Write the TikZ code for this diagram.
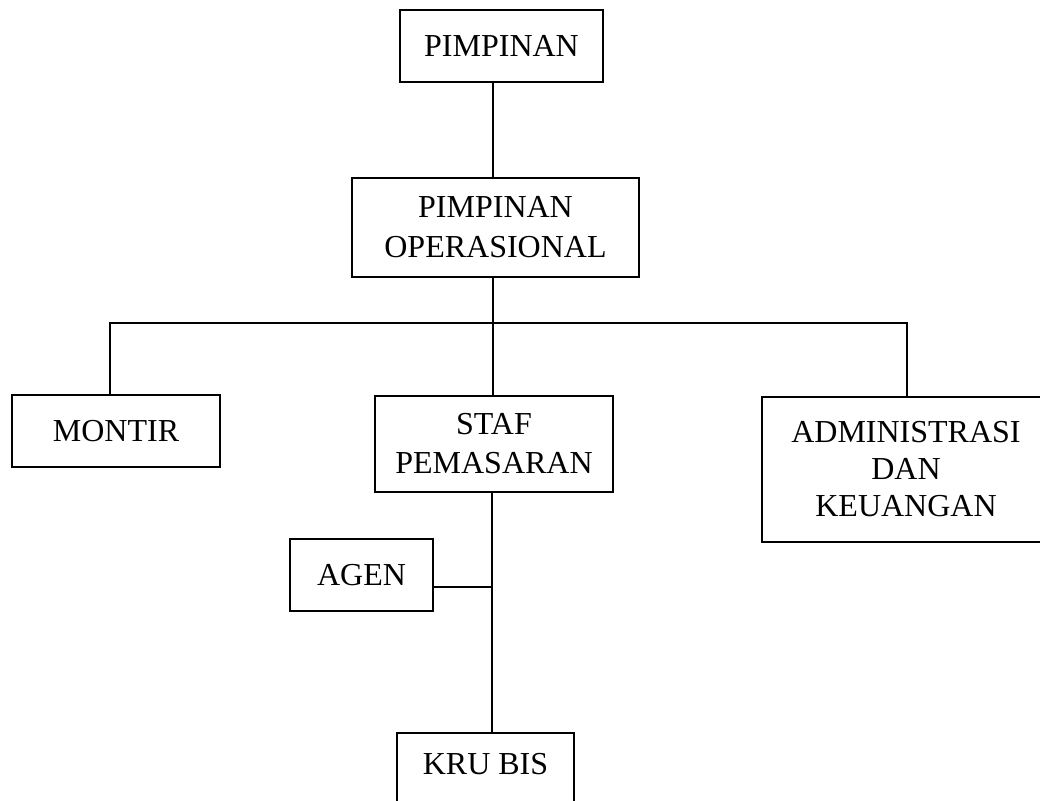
\documentclass[tikz,border=0pt]{standalone}
\usepackage{fontspec}
\setmainfont{Liberation Serif}
\begin{document}
\begin{tikzpicture}[x=0.5pt, y=-0.5pt, line width=1.1pt,
  unit/.style={draw, align=center, inner sep=0pt, font=\fontsize{16}{19.5}\selectfont}]
  \clip (0,0) rectangle (1040,801);
  % boxes
  \node[unit, minimum width=101.5pt, minimum height=36pt] (top) at (501.5,46) {PIMPINAN};
  \node[unit, minimum width=143.5pt, minimum height=49.5pt, font=\fontsize{16}{20}\selectfont] (ops) at (495.5,227.5) {PIMPINAN\\OPERASIONAL};
  \node[unit, minimum width=104pt, minimum height=36pt] (montir) at (116,431) {MONTIR};
  \node[unit, minimum width=119pt, minimum height=48pt] (staf) at (494,444) {STAF\\PEMASARAN};
  \node[unit, minimum width=144pt, minimum height=72.5pt, font=\fontsize{16}{18.5}\selectfont] (admin) at (906,469.5) {ADMINISTRASI\\DAN\\KEUANGAN};
  \node[unit, minimum width=71.5pt, minimum height=36pt] (agen) at (361.5,575) {AGEN};
  \node[unit, minimum width=88.5pt, anchor=north, text height=20.5pt, text depth=28.5pt] (kru) at (485.5,732) {KRU BIS};
  % lines
  \coordinate (bus) at (493,323);
  \coordinate (busL) at (110,323);
  \coordinate (busR) at (907,323);
  \coordinate (stem) at (492,587);
  \draw (top.south -| bus) -- (ops.north -| bus);
  \draw (ops.south -| bus) -- (staf.north -| bus);
  \draw (montir.north -| busL) -- (busL) -- (busR) -- (admin.north -| busR);
  \draw (staf.south -| stem) -- (kru.north -| stem);
  \draw (agen.east |- stem) -- (stem);
\end{tikzpicture}
\end{document}
